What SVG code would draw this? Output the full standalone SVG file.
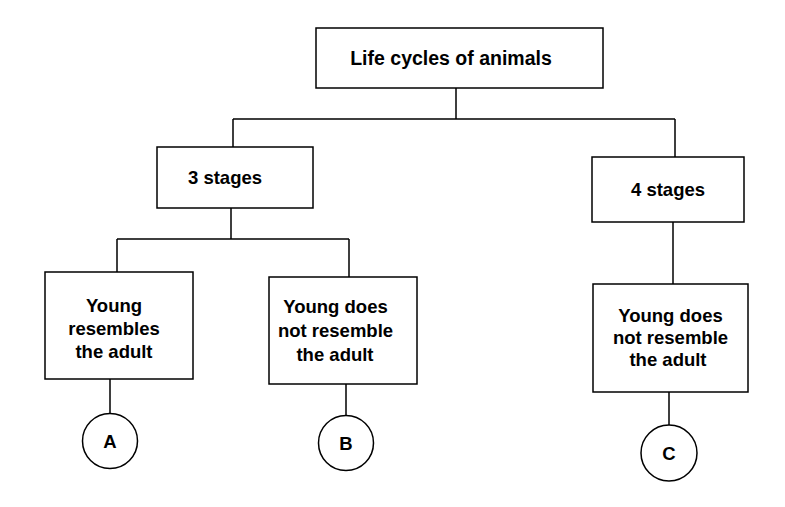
<svg xmlns="http://www.w3.org/2000/svg" width="785" height="507" viewBox="0 0 785 507">
<style>
.box{fill:#fff;stroke:#000;stroke-width:1.5}
.ln{fill:none;stroke:#000;stroke-width:1.5}
text{font-family:"Liberation Sans",Arial,sans-serif;font-weight:bold;font-size:18.5px;fill:#000;text-anchor:middle}
.t{font-size:19.5px}
</style>
<rect width="785" height="507" fill="#fff"/>
<g id="connectors">
<path class="ln" d="M456,88 V119 M233,119 H675 M233,119 V147 M675,119 V157"/>
<path class="ln" d="M231,208 V239 M117,239 H349 M117,239 V272 M349,239 V277"/>
<path class="ln" d="M673,222 V284"/>
<path class="ln" d="M110,379 V414 M346,384 V415 M669,392 V425"/>
</g>
<g id="root"><rect class="box" x="316" y="28" width="287" height="60"/><text class="t" x="451" y="65">Life cycles of animals</text></g>
<g id="three"><rect class="box" x="157" y="147" width="156" height="61"/><text x="225" y="184">3 stages</text></g>
<g id="four"><rect class="box" x="592" y="157" width="152" height="65"/><text x="668" y="196">4 stages</text></g>
<g id="youngA"><rect class="box" x="45" y="272" width="148" height="107"/><text x="114" y="312">Young</text><text x="114" y="335">resembles</text><text x="114" y="358">the adult</text></g>
<g id="youngB"><rect class="box" x="269" y="277" width="148" height="107"/><text x="335.5" y="313">Young does</text><text x="335.5" y="337">not resemble</text><text x="335" y="361">the adult</text></g>
<g id="youngC"><rect class="box" x="593" y="284" width="155" height="108"/><text x="670.5" y="322">Young does</text><text x="670.5" y="344">not resemble</text><text x="668" y="366">the adult</text></g>
<g id="A"><circle class="box" cx="110" cy="441" r="27.5"/><text x="110" y="448">A</text></g>
<g id="B"><circle class="box" cx="346" cy="443" r="27.5"/><text x="346" y="450">B</text></g>
<g id="C"><circle class="box" cx="669" cy="453" r="28"/><text x="669" y="460">C</text></g>
</svg>
